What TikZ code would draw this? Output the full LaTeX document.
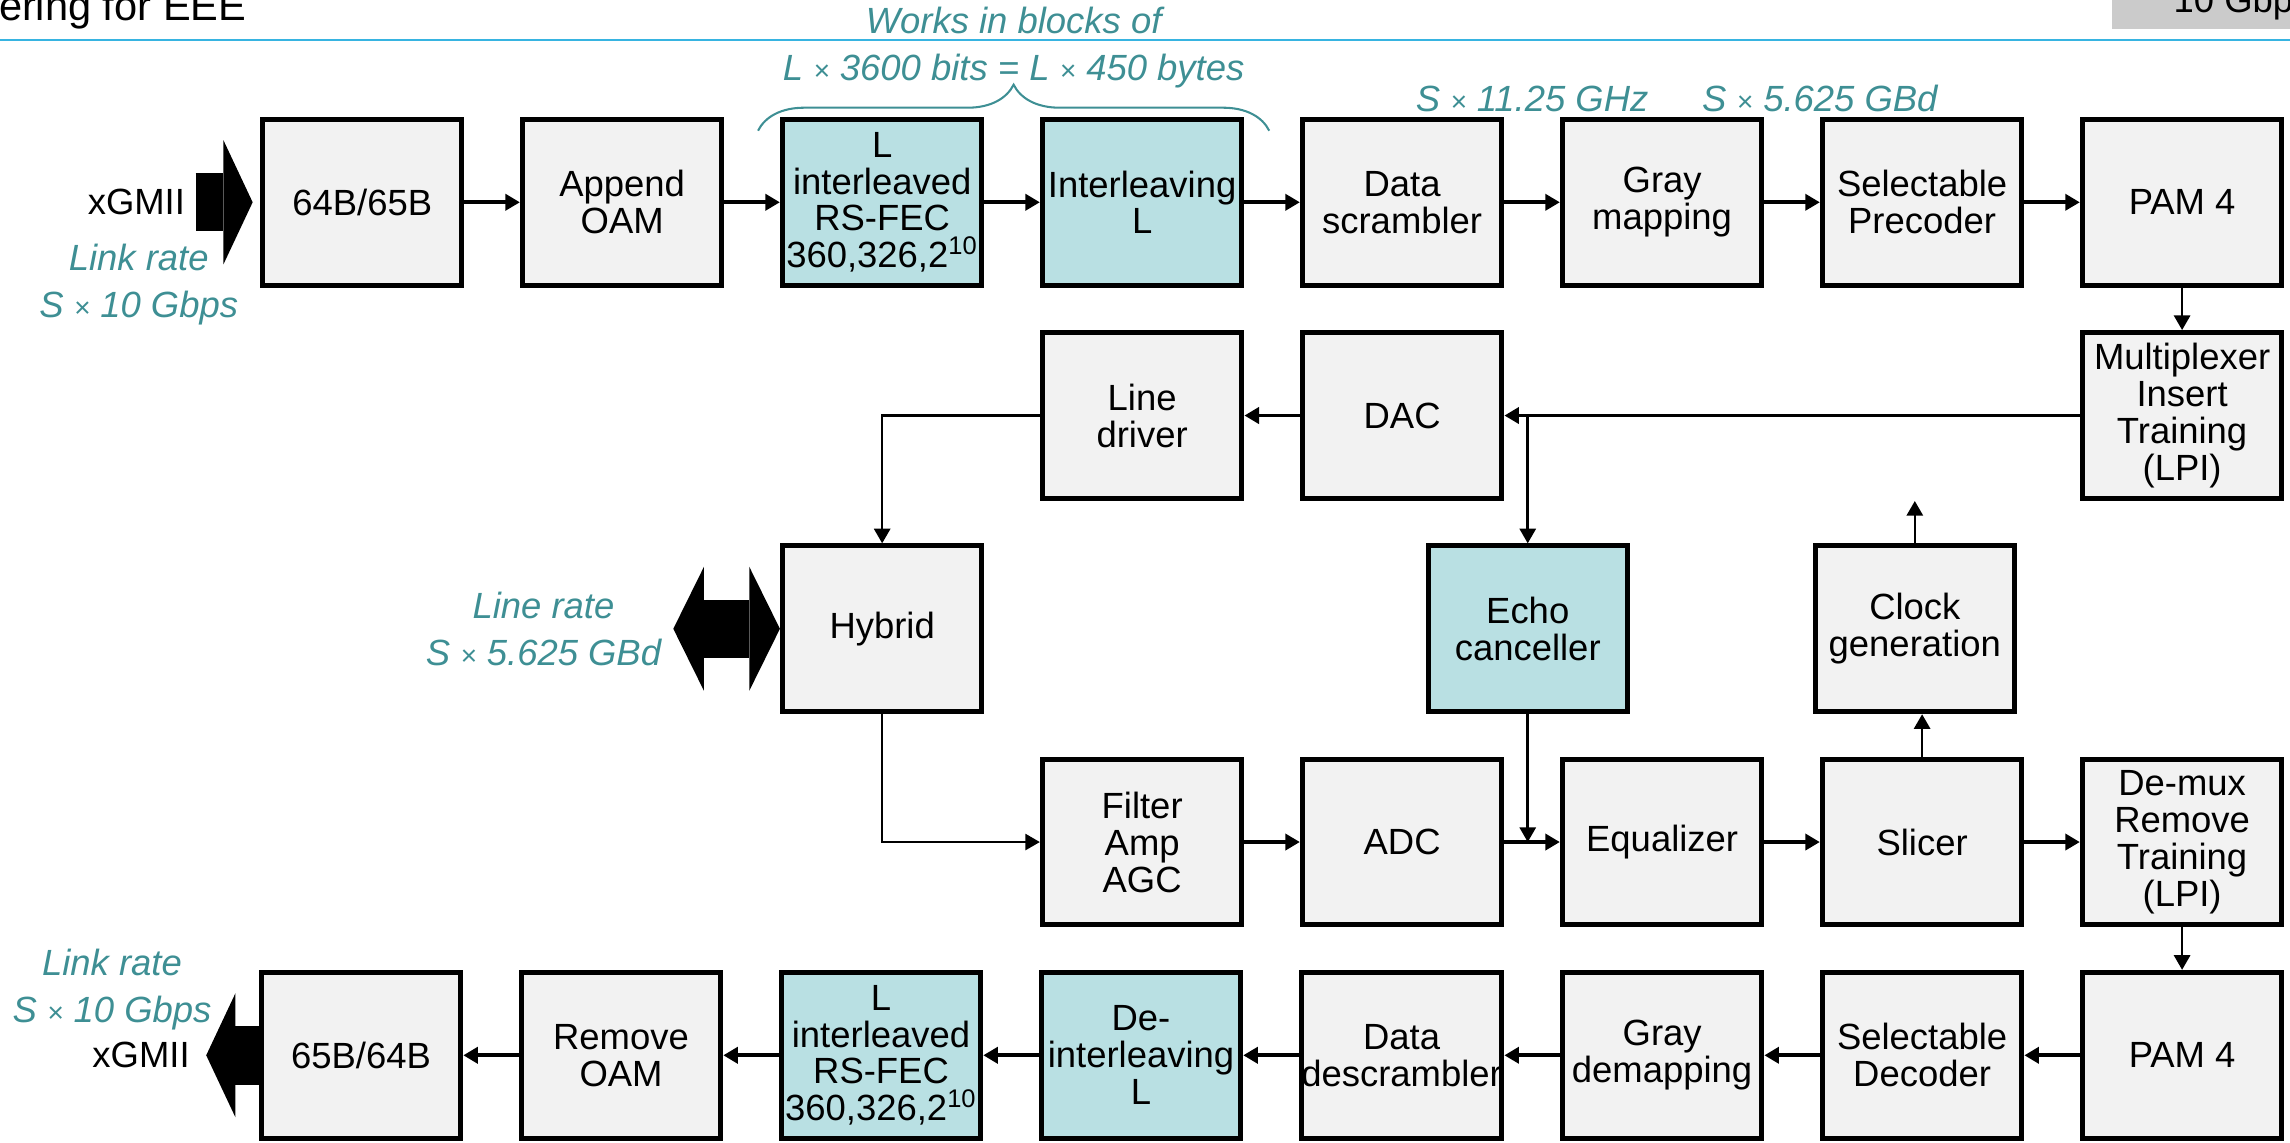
\documentclass[tikz,border=0pt]{standalone}
\usepackage{fontspec}
\setmainfont{Liberation Sans}
\usepackage{xcolor}
\usepackage{tikz}
\usetikzlibrary{positioning,arrows.meta,calc,decorations.pathreplacing}
\definecolor{boxgray}{RGB}{242,242,242}
\definecolor{fecblue}{RGB}{185,224,227}
\definecolor{rateteal}{RGB}{62,143,148}
\definecolor{rulecyan}{RGB}{55,180,225}
\definecolor{tabgray}{RGB}{203,203,203}
\newcommand{\ratex}{{\fontsize{11}{11}\selectfont ×}}
\tikzset{
    phyblock/.style={draw, line width=2pt, fill=boxgray, align=center, inner sep=0pt, minimum width=2.73cm, minimum height=2.27cm, font=\fontsize{14.2}{14.4}\selectfont},
    fecblock/.style={phyblock, fill=fecblue},
    phyflow/.style={draw, line width=1.5pt, -{Triangle[length=0.2cm, width=0.22cm]}},
    phylink/.style={draw, line width=1pt, -{Triangle[length=0.2cm, width=0.22cm]}},
    fatarrow/.style={draw, line width=0.8cm, -{Triangle[length=0.4cm, width=1.7cm, line width=0pt]}},
    fatboth/.style={draw, line width=0.8cm, {Triangle[length=0.42cm, width=1.7cm, line width=0pt]}-{Triangle[length=0.42cm, width=1.7cm, line width=0pt]}},
    ratelabel/.style={text=rateteal, font=\fontsize{14.2}{18.5}\itshape\selectfont, inner sep=0pt, align=center},
    portlabel/.style={font=\fontsize{14.2}{14.2}\selectfont, inner sep=0pt},
    ratebrace/.style={draw=rateteal, line width=0.8pt, decorate, decoration={brace, amplitude=0.63cm}}
}
\begin{document}
\begin{tikzpicture}[node distance=0.58cm and 0.76cm]
    \useasboundingbox (0,0) rectangle (31.36,-15.64);
    % header
    \draw[rulecyan, line width=1pt] (0,-0.55) -- (31.36,-0.55);
    \node[anchor=base east, inner sep=0pt, font=\fontsize{16.2}{16.2}\selectfont] (title) at (3.38,-0.28) {ering for EEE};
    \fill[tabgray] (28.92,0) rectangle (31.36,-0.4);
    \node[anchor=base west, portlabel] (tab) at (29.76,-0.175) {10 Gbp};
    % transmit path
    \node[phyblock] (enc) at (4.96,-2.77) {64B/65B};
    \node[phyblock, right=of enc] (oam) {Append\\OAM};
    \node[fecblock, right=of oam] (fec) {L\\interleaved\\RS-FEC\\360,326,2\textsuperscript{10}};
    \node[fecblock, right=of fec] (ilv) {Interleaving\\L};
    \node[phyblock, right=of ilv] (scr) {Data\\scrambler};
    \node[phyblock, right=of scr] (gmap) {Gray\\mapping};
    \node[phyblock, right=of gmap] (prec) {Selectable\\Precoder};
    \node[phyblock, right=of prec] (pam) {PAM 4};
    \node[phyblock, below=of pam] (mux) {Multiplexer\\Insert\\Training\\(LPI)};
    \node[phyblock, below=of scr] (dac) {DAC};
    \node[phyblock, below=of ilv] (ldrv) {Line\\driver};
    % line side
    \node[phyblock, below left=of ldrv] (hyb) {Hybrid};
    \node[fecblock, below=of dac, xshift=1.72cm] (echo) {Echo\\canceller};
    % receive path
    \node[phyblock, below right=of hyb] (filt) {Filter\\Amp\\AGC};
    \node[phyblock, right=of filt] (adc) {ADC};
    \node[phyblock, right=of adc] (eq) {Equalizer};
    \node[phyblock, right=of eq] (slc) {Slicer};
    \node[phyblock, right=of slc] (dmx) {De-mux\\Remove\\Training\\(LPI)};
    \node[phyblock, above=of slc, xshift=-0.1cm] (clk) {Clock\\generation};
    \node[phyblock, below=of dmx] (rpam) {PAM 4};
    \node[phyblock, left=of rpam] (dec) {Selectable\\Decoder};
    \node[phyblock, left=of dec] (gdem) {Gray\\demapping};
    \node[phyblock, left=of gdem] (dscr) {Data\\descrambler};
    \node[fecblock, left=of dscr] (dilv) {De-\\interleaving\\L};
    \node[fecblock, left=of dilv] (rfec) {L\\interleaved\\RS-FEC\\360,326,2\textsuperscript{10}};
    \node[phyblock, left=of rfec] (roam) {Remove\\OAM};
    \node[phyblock, left=of roam] (pdec) {65B/64B};
    % rate labels
    \draw[ratebrace] ($(fec.north west)+(-0.3,-0.19)$) -- node[ratelabel, above=0.57cm] (blocks) {Works in blocks of\\L \ratex{} 3600 bits = L \ratex{} 450 bytes} ($(ilv.north east)+(0.34,-0.19)$);
    \node[ratelabel, above=0.06cm] (bitrate) at ($(scr.north east)!.5!(gmap.north west)$) {S \ratex{} 11.25 GHz};
    \node[ratelabel, above=0.06cm] (baudrate) at (prec.north west) {S \ratex{} 5.625 GBd};
    % xGMII ports and line
    \coordinate[left=0.88cm of enc.west] (xin);
    \draw[fatarrow, shorten >=0.1cm] (xin) -- (enc.west);
    \node[portlabel, left=0.14cm of xin] (xgin) {xGMII};
    \node[ratelabel] (lrin) at ($(enc.west)+(-1.66,-1.13)$) {Link rate\\S \ratex{} 10 Gbps};
    \coordinate[left=0.72cm of pdec.west] (xout);
    \draw[fatarrow] (pdec.west) -- (xout);
    \node[portlabel, left=0.22cm of xout] (xgout) {xGMII};
    \node[ratelabel] (lrout) at ($(pdec.west)+(-2.01,0.9)$) {Link rate\\S \ratex{} 10 Gbps};
    \coordinate[left=1.46cm of hyb.west] (lnout);
    \draw[fatboth] (lnout) -- (hyb.west);
    \node[ratelabel, left=0.16cm of lnout] (lnrate) {Line rate\\S \ratex{} 5.625 GBd};
    % connectors
    \draw[phyflow] (enc) -- (oam);
    \draw[phyflow] (oam) -- (fec);
    \draw[phyflow] (fec) -- (ilv);
    \draw[phyflow] (ilv) -- (scr);
    \draw[phyflow] (scr) -- (gmap);
    \draw[phyflow] (gmap) -- (prec);
    \draw[phyflow] (prec) -- (pam);
    \draw[phylink] (pam) -- (mux);
    \draw[phyflow] (mux) -- (dac);
    \draw[phyflow] (dac) -- (ldrv);
    \draw[phylink] (echo.north |- dac.east) -- (echo.north);
    \draw[phylink] (ldrv.west) -| (hyb.north);
    \draw[phylink] (hyb.south) |- (filt.west);
    \draw[phyflow] (filt) -- (adc);
    \draw[phyflow] (adc) -- (eq);
    \draw[phyflow] (eq) -- (slc);
    \draw[phyflow] (slc) -- (dmx);
    \draw[phylink] (echo.south) -- (echo.south |- eq.west);
    \draw[phylink] (slc.north) -- (slc.north |- clk.south);
    \coordinate (clkout) at (clk.north |- mux.south);
    \draw[phylink] (clk.north) -- (clkout);
    \draw[phylink] (dmx) -- (rpam);
    \draw[phyflow] (rpam) -- (dec);
    \draw[phyflow] (dec) -- (gdem);
    \draw[phyflow] (gdem) -- (dscr);
    \draw[phyflow] (dscr) -- (dilv);
    \draw[phyflow] (dilv) -- (rfec);
    \draw[phyflow] (rfec) -- (roam);
    \draw[phyflow] (roam) -- (pdec);
\end{tikzpicture}
\end{document}
